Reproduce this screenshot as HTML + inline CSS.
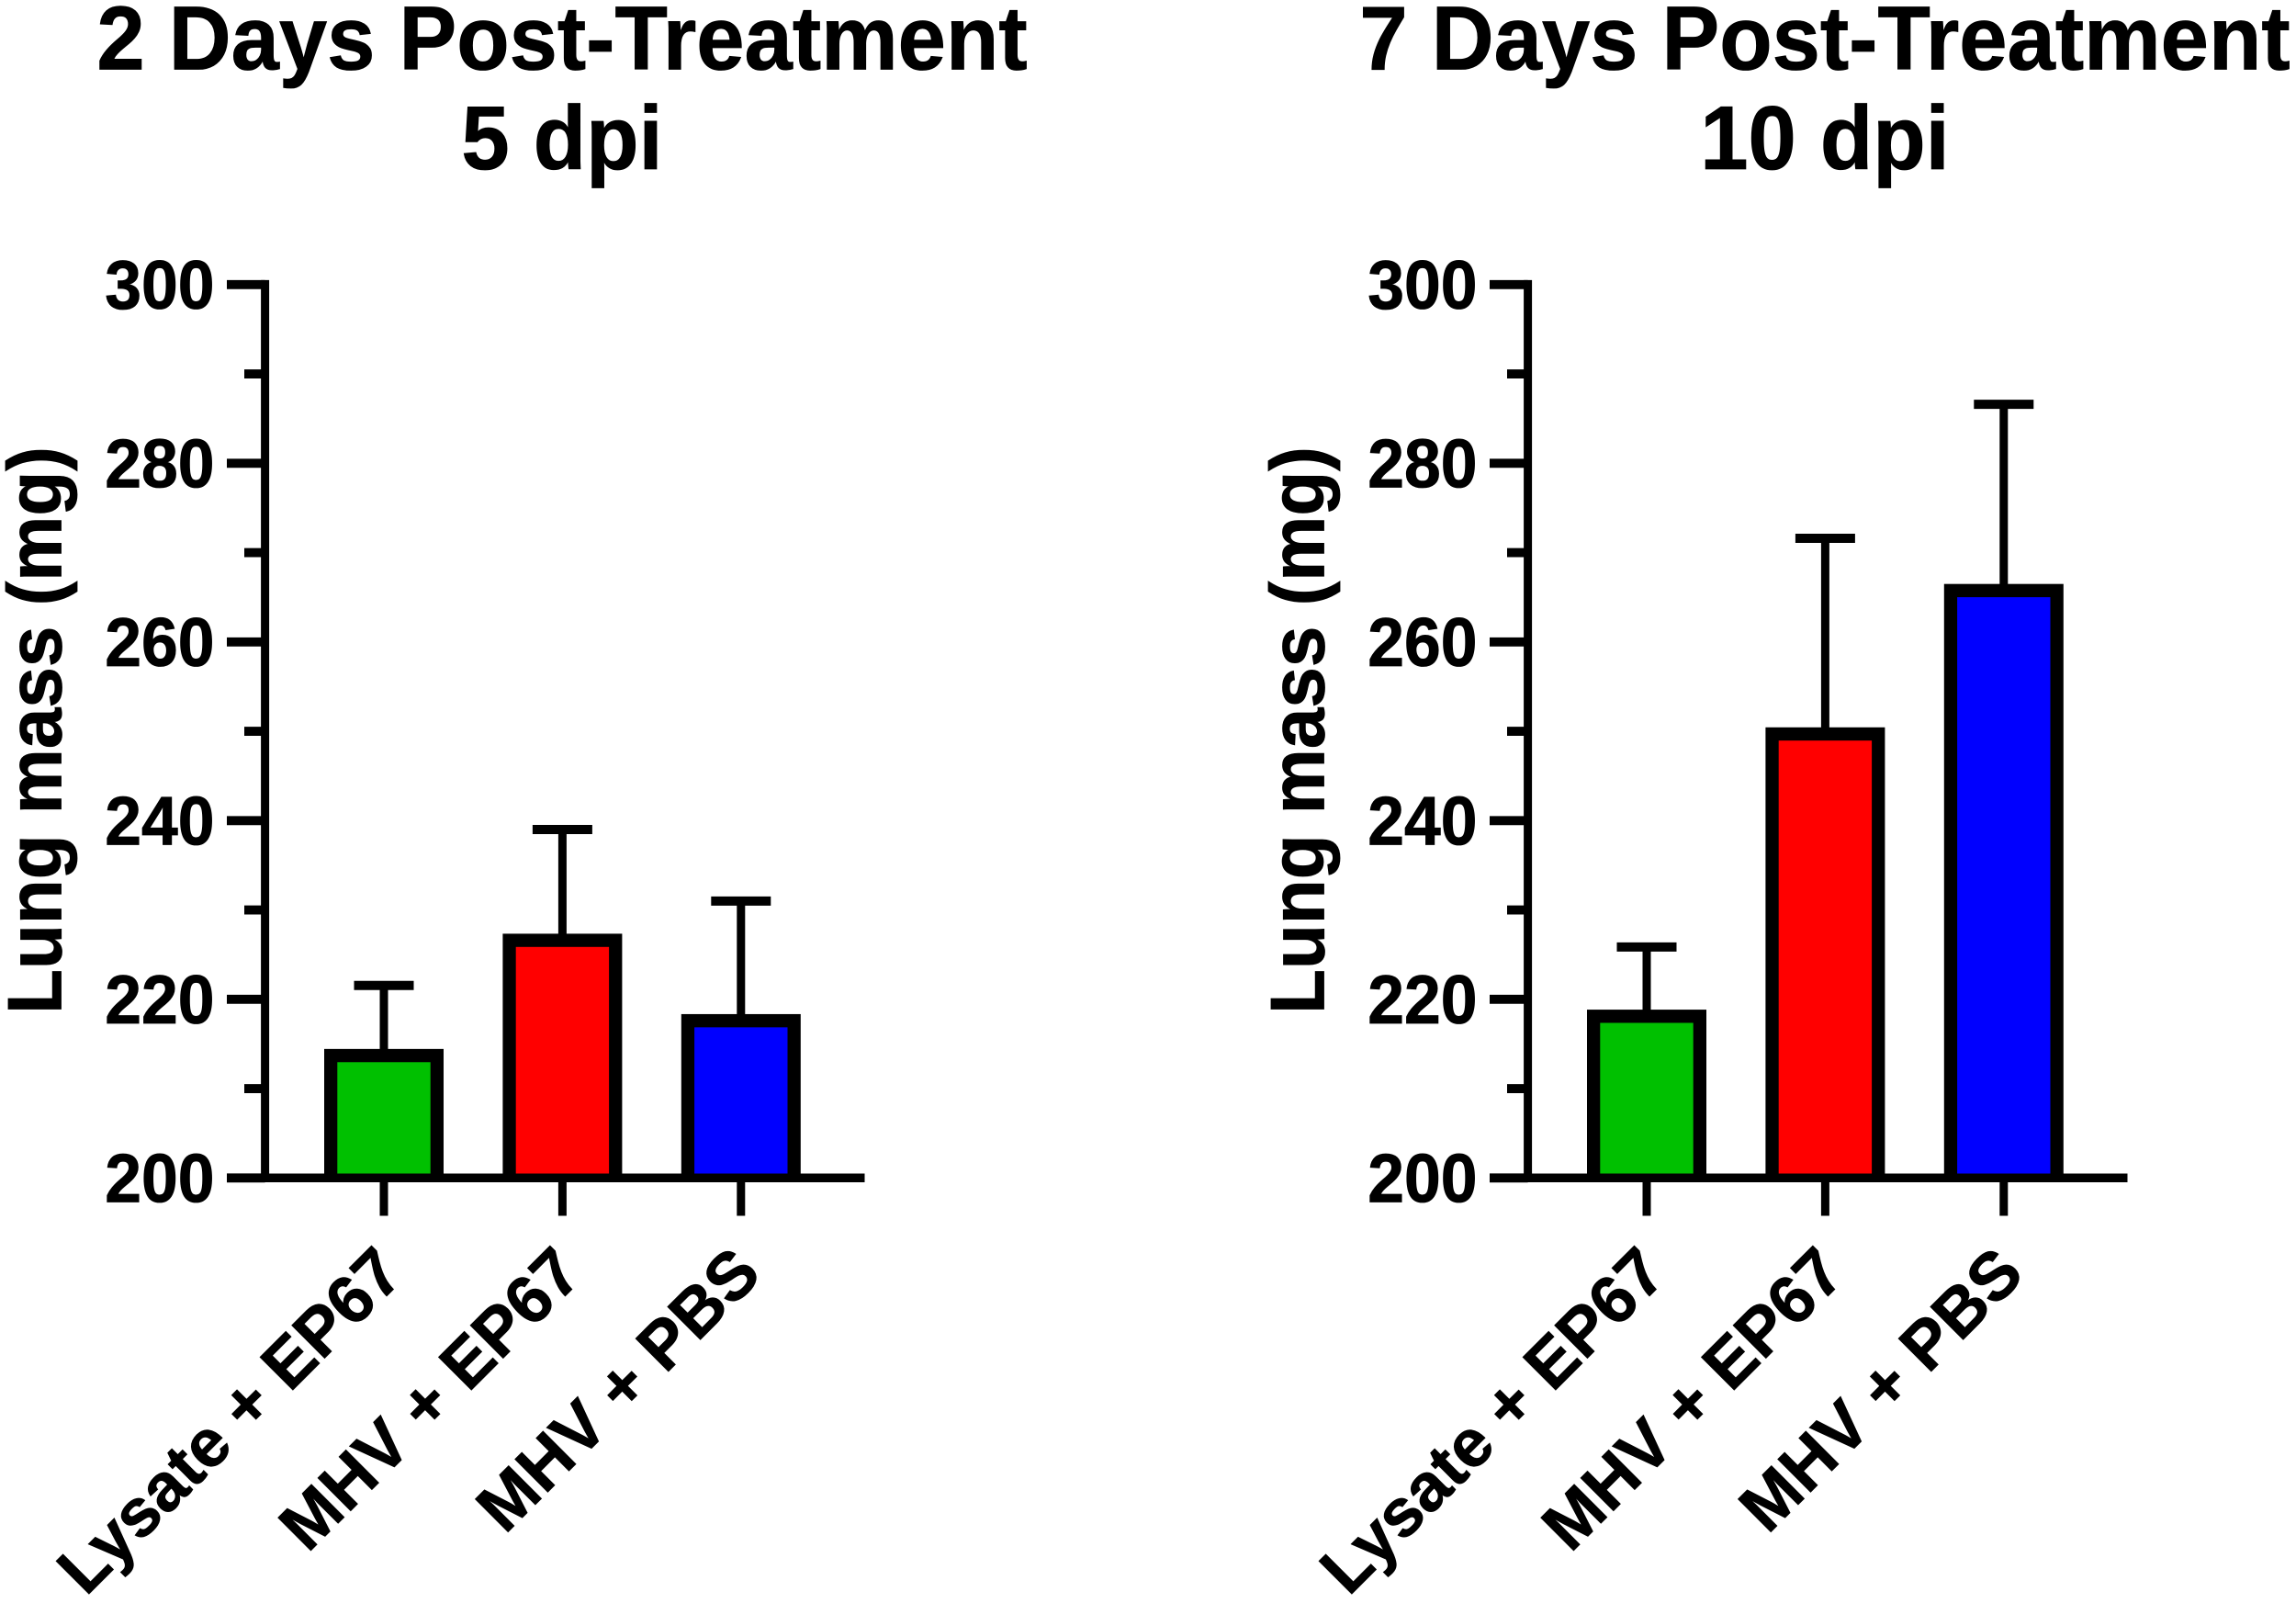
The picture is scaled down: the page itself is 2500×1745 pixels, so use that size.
<!DOCTYPE html>
<html lang="en">
<head>
<meta charset="utf-8">
<title>Lung mass post-treatment</title>
<style>
html,body{margin:0;padding:0;background:#fff;}
svg{display:block;}
text{font-family:"Liberation Sans",Arial,sans-serif;font-weight:700;fill:#000;stroke:#000;stroke-width:0.8px;}
</style>
</head>
<body>
<svg id="figure" xmlns="http://www.w3.org/2000/svg" width="2500" height="1745" viewBox="0 0 2500 1745">
  <rect x="0" y="0" width="2500" height="1745" fill="#fff"/>
  <g font-size="94" text-anchor="middle">
    <text transform="translate(612 75.5) scale(1 1.045)">2 Days Post-Treatment</text>
    <text transform="translate(612 184) scale(1 1.045)">5 dpi</text>
  </g>
  <g font-size="94" text-anchor="middle">
    <text transform="translate(1987 75.5) scale(1 1.045)">7 Days Post-Treatment</text>
    <text transform="translate(1987 184) scale(1 1.045)">10 dpi</text>
  </g>
  <text font-size="80" text-anchor="middle" transform="translate(66.7 795) rotate(-90) scale(1 1.04)">Lung mass (mg)</text>
  <text font-size="80" text-anchor="middle" transform="translate(1441.7 795) rotate(-90) scale(1 1.04)">Lung mass (mg)</text>
  <g id="left-panel"></g>
  <g id="right-panel"></g>
</svg>
<script>
const categories = ["Lysate + EP67", "MHV + EP67", "MHV + PBS"];
const barColors = ["#00c000", "#ff0000", "#0000ff"];
const majorTicks = [200, 220, 240, 260, 280, 300];
const minorTicks = [210, 230, 250, 270, 290];
const leftMeans = [213.7, 226.6, 217.6];
const leftErrorTops = [221.55, 239, 231];
const rightMeans = [218.1, 249.7, 265.75];
const rightErrorTops = [225.85, 271.6, 286.6];

const NS = "http://www.w3.org/2000/svg";
const yScale = function (v) { return 1282.3 - (v - 200) * 9.725; };
const xScale = function (i) { return 418 + i * 194.4; };

function make(parent, tag, attrs) {
  const el = document.createElementNS(NS, tag);
  for (const k in attrs) el.setAttribute(k, attrs[k]);
  parent.appendChild(el);
  return el;
}

function drawPanel(root, dx, means, errorTops) {
  const ax = 288.6 + dx;
  const base = yScale(200);

  means.forEach(function (m, i) {
    const cx = xScale(i) + dx;
    const top = yScale(m);
    const capY = yScale(errorTops[i]);

    const stem = make(root, "line", {x1: cx, x2: cx, y1: top, y2: capY, stroke: "#000", "stroke-width": 9});
    
    

    const cap = make(root, "line", {x1: cx - 32.5, x2: cx + 32.5, y1: capY, y2: capY, stroke: "#000", "stroke-width": 10});
    
    

    const barOutline = make(root, "rect", {x: cx - 65, y: top - 7.2, width: 130, height: base - top + 7.2, fill: "#000"});
    
    

    const bar = make(root, "rect", {x: cx - 50.7, y: top + 7.2, width: 101.4, height: base - top - 7.2, fill: barColors[i]});
    
    

    const tick = make(root, "line", {x1: cx, x2: cx, y1: 1282, y2: 1323.5, stroke: "#000", "stroke-width": 9});
    
    

    const label = make(root, "text", {"font-size": 73.5, "text-anchor": "end", transform: "translate(" + (cx + 24.5) + " 1389.5) rotate(-45)"});
    
    
    label.textContent = categories[i];
  });

  const yAxis = make(root, "line", {x1: ax, x2: ax, y1: yScale(300) - 4.9, y2: base, stroke: "#000", "stroke-width": 9});
  
  

  const xAxis = make(root, "line", {x1: 247 + dx, x2: 941.5 + dx, y1: base, y2: base, stroke: "#000", "stroke-width": 9.5});
  
  

  majorTicks.forEach(function (v) {
    const y = yScale(v);
    const t = make(root, "line", {x1: 247 + dx, x2: ax, y1: y, y2: y, stroke: "#000", "stroke-width": 9.8});
    
    

    const lab = make(root, "text", {"font-size": 71.5, "text-anchor": "end", transform: "translate(" + (233.5 + dx) + " " + (y + 26) + ") scale(1 1.05)"});
    
    
    lab.textContent = String(v);
  });

  minorTicks.forEach(function (v) {
    const y = yScale(v);
    const t = make(root, "line", {x1: 266 + dx, x2: ax, y1: y, y2: y, stroke: "#000", "stroke-width": 9.8});
    
    
  });
}

drawPanel(document.getElementById("left-panel"), 0, leftMeans, leftErrorTops);
drawPanel(document.getElementById("right-panel"), 1375, rightMeans, rightErrorTops);
</script>
</body>
</html>
